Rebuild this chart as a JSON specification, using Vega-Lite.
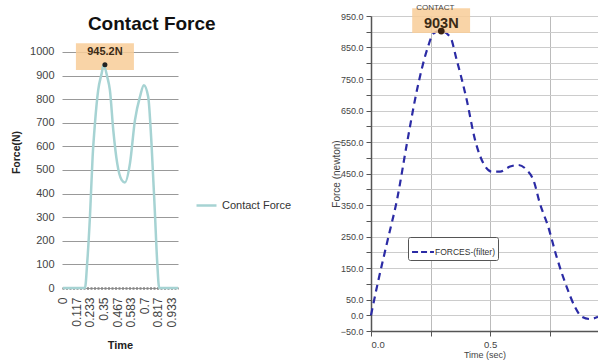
{
  "$schema": "https://vega.github.io/schema/vega-lite/v6.json",
  "padding": {"left": 11, "top": 4, "right": 0, "bottom": 0},
  "spacing": 39,
  "config": {"font": "Liberation Sans", "view": {"stroke": null}, "axis": {"labelOverlap": false, "tickCount": 100}},
  "datasets": {
    "left": [
      {"t": 0, "v": 0, "series": "Contact Force"},
      {"t": 0.19, "v": 0, "series": "Contact Force"},
      {"t": 0.209, "v": 105, "series": "Contact Force"},
      {"t": 0.233, "v": 303, "series": "Contact Force"},
      {"t": 0.256, "v": 556, "series": "Contact Force"},
      {"t": 0.276, "v": 697, "series": "Contact Force"},
      {"t": 0.304, "v": 838, "series": "Contact Force"},
      {"t": 0.334, "v": 909, "series": "Contact Force"},
      {"t": 0.35, "v": 945.2, "series": "Contact Force"},
      {"t": 0.382, "v": 894, "series": "Contact Force"},
      {"t": 0.405, "v": 838, "series": "Contact Force"},
      {"t": 0.434, "v": 669, "series": "Contact Force"},
      {"t": 0.468, "v": 528, "series": "Contact Force"},
      {"t": 0.506, "v": 458, "series": "Contact Force"},
      {"t": 0.534, "v": 447, "series": "Contact Force"},
      {"t": 0.578, "v": 528, "series": "Contact Force"},
      {"t": 0.621, "v": 711, "series": "Contact Force"},
      {"t": 0.664, "v": 810, "series": "Contact Force"},
      {"t": 0.698, "v": 859, "series": "Contact Force"},
      {"t": 0.735, "v": 810, "series": "Contact Force"},
      {"t": 0.765, "v": 598, "series": "Contact Force"},
      {"t": 0.793, "v": 317, "series": "Contact Force"},
      {"t": 0.813, "v": 107, "series": "Contact Force"},
      {"t": 0.83, "v": 0, "series": "Contact Force"},
      {"t": 0.992, "v": 0, "series": "Contact Force"}
    ],
    "leftNote": [
      {"t0": 0.112, "t1": 0.612, "v0": 923, "v1": 1037, "tp": 0.362, "vp": 945.2, "vt": 1000, "label": "945.2N"}
    ],
    "right": [
      {"t": 0, "v": 0, "series": "FORCES-(filter)"},
      {"t": 0.028, "v": 101, "series": "FORCES-(filter)"},
      {"t": 0.07, "v": 239, "series": "FORCES-(filter)"},
      {"t": 0.109, "v": 366, "series": "FORCES-(filter)"},
      {"t": 0.151, "v": 546, "series": "FORCES-(filter)"},
      {"t": 0.193, "v": 715, "series": "FORCES-(filter)"},
      {"t": 0.235, "v": 842, "series": "FORCES-(filter)"},
      {"t": 0.263, "v": 895, "series": "FORCES-(filter)"},
      {"t": 0.29, "v": 903, "series": "FORCES-(filter)"},
      {"t": 0.332, "v": 884, "series": "FORCES-(filter)"},
      {"t": 0.36, "v": 810, "series": "FORCES-(filter)"},
      {"t": 0.402, "v": 683, "series": "FORCES-(filter)"},
      {"t": 0.437, "v": 556, "series": "FORCES-(filter)"},
      {"t": 0.472, "v": 482, "series": "FORCES-(filter)"},
      {"t": 0.507, "v": 456, "series": "FORCES-(filter)"},
      {"t": 0.542, "v": 456, "series": "FORCES-(filter)"},
      {"t": 0.584, "v": 472, "series": "FORCES-(filter)"},
      {"t": 0.619, "v": 477, "series": "FORCES-(filter)"},
      {"t": 0.654, "v": 461, "series": "FORCES-(filter)"},
      {"t": 0.682, "v": 429, "series": "FORCES-(filter)"},
      {"t": 0.709, "v": 355, "series": "FORCES-(filter)"},
      {"t": 0.744, "v": 281, "series": "FORCES-(filter)"},
      {"t": 0.779, "v": 186, "series": "FORCES-(filter)"},
      {"t": 0.821, "v": 91, "series": "FORCES-(filter)"},
      {"t": 0.856, "v": 27, "series": "FORCES-(filter)"},
      {"t": 0.884, "v": -4, "series": "FORCES-(filter)"},
      {"t": 0.919, "v": -12, "series": "FORCES-(filter)"},
      {"t": 0.953, "v": -5, "series": "FORCES-(filter)"}
    ],
    "rightNote": [
      {"t0": 0.173, "t1": 0.416, "v0": 896, "v1": 975, "tp": 0.295, "vp": 902, "tt": 0.27, "vt": 975, "vb": 926, "small": "CONTACT", "big": "903N"}
    ]
  },
  "hconcat": [
    {
      "width": 116,
      "height": 272,
      "title": {"text": "Contact Force", "fontSize": 19, "fontWeight": "bold", "color": "#111", "offset": -33, "anchor": "middle", "frame": "bounds", "baseline": "alphabetic"},
      "layer": [
        {
          "data": {"name": "leftNote"},
          "mark": {"type": "rect", "fill": "#f8cd98", "opacity": 0.85},
          "encoding": {
            "x": {"field": "t0", "type": "quantitative"},
            "x2": {"field": "t1"},
            "y": {"field": "v0", "type": "quantitative"},
            "y2": {"field": "v1"}
          }
        },
        {
          "data": {"name": "left"},
          "mark": {"type": "line", "strokeWidth": 2.5, "interpolate": "monotone"},
          "encoding": {
            "x": {"field": "t", "type": "quantitative",
              "scale": {"domain": [-0.008, 0.992], "nice": false, "zero": false},
              "axis": {"values": [0, 0.117, 0.233, 0.35, 0.467, 0.583, 0.7, 0.817, 0.933], "tickCount": 100, "format": ".3~f", "labelOverlap": false,
                "labelAngle": -90, "labelAlign": "right", "labelBaseline": "middle", "labelFontSize": 12, "labelColor": "#444", "labelPadding": 9,
                "grid": false, "ticks": false, "domainColor": "#888", "domainWidth": 2.5, "domainDash": [2, 1.5],
                "title": "Time", "titleFontSize": 11, "titleFontWeight": "bold", "titleColor": "#222", "titlePadding": 12}},
            "y": {"field": "v", "type": "quantitative",
              "scale": {"domain": [0, 1152], "nice": false},
              "axis": {"values": [0, 100, 200, 300, 400, 500, 600, 700, 800, 900, 1000], "tickCount": 100, "format": "d", "labelOverlap": false, "grid": true, "gridColor": "#999", "domain": false, "ticks": false,
                "labelFontSize": 11, "labelColor": "#444", "labelPadding": 8,
                "title": "Force(N)", "titleFontSize": 10.5, "titleFontWeight": "bold", "titleColor": "#222", "titlePadding": 8}},
            "color": {"field": "series", "type": "nominal", "scale": {"range": ["#a6d3d3"]},
              "legend": {"orient": "none", "legendX": 133, "legendY": 178, "title": null, "symbolType": "stroke", "symbolStrokeWidth": 2.5, "symbolSize": 400, "labelFontSize": 11, "labelColor": "#333", "labelOffset": 4}}
          }
        },
        {
          "data": {"name": "leftNote"},
          "mark": {"type": "point", "filled": true, "color": "#222", "size": 25, "opacity": 1},
          "encoding": {"x": {"field": "tp", "type": "quantitative"}, "y": {"field": "vp", "type": "quantitative"}}
        },
        {
          "data": {"name": "leftNote"},
          "mark": {"type": "text", "fontSize": 11, "fontWeight": "bold", "color": "#3a2a15", "baseline": "middle"},
          "encoding": {"x": {"field": "tp", "type": "quantitative"}, "y": {"field": "vt", "type": "quantitative"}, "text": {"field": "label"}}
        }
      ]
    },
    {
      "width": 227,
      "height": 315,
      "layer": [
        {
          "data": {"name": "right"},
          "mark": {"type": "line", "strokeWidth": 2.2, "strokeDash": [7, 5], "interpolate": "monotone"},
          "encoding": {
            "x": {"field": "t", "type": "quantitative",
              "scale": {"domain": [0, 0.953], "nice": false, "zero": false},
              "axis": {"values": [0, 0.25, 0.5, 0.75], "tickCount": 100, "labelExpr": "datum.value == 0.25 || datum.value == 0.75 ? '' : format(datum.value, '.1f')", "labelOverlap": false,
                "grid": true, "gridColor": "#bbb", "domainColor": "#555", "domainWidth": 1.5, "tickColor": "#555", "tickSize": 5,
                "labelFontSize": 9.5, "labelColor": "#444", "labelPadding": 3,
                "title": "Time (sec)", "titleFontSize": 9, "titleFontWeight": "normal", "titleColor": "#444", "titlePadding": 2}},
            "y": {"field": "v", "type": "quantitative",
              "scale": {"domain": [-50, 950], "nice": false, "zero": false},
              "axis": {"values": [-50, 0, 50, 100, 150, 200, 250, 300, 350, 400, 450, 500, 550, 600, 650, 700, 750, 800, 850, 900, 950], "tickCount": 100,
                "labelExpr": "(datum.value % 100 != 0 || datum.value == 0) ? format(datum.value, '.1f') : ''", "labelOverlap": false,
                "grid": true, "gridColor": "#ccc", "domainColor": "#555", "domainWidth": 1.5, "tickColor": "#555", "tickSize": 5,
                "labelFontSize": 9, "labelColor": "#444", "labelPadding": 3,
                "title": "Force (newton)", "titleFontSize": 10, "titleFontWeight": "normal", "titleColor": "#444", "titlePadding": -1}},
            "color": {"field": "series", "type": "nominal", "scale": {"range": ["#2b2ba5"]},
              "legend": {"orient": "none", "legendX": 37, "legendY": 221, "title": null, "symbolType": "stroke", "symbolDash": [6, 3], "symbolStrokeWidth": 2, "symbolSize": 480,
                "labelFontSize": 8.5, "labelColor": "#333", "labelOffset": 0, "strokeColor": "#555", "fillColor": "white", "padding": 3, "cornerRadius": 2}}
          }
        },
        {
          "mark": {"type": "rule", "color": "#444", "strokeWidth": 1.5},
          "encoding": {"y": {"datum": 0}}
        },
        {
          "mark": {"type": "rule", "color": "#555", "strokeWidth": 1.5},
          "encoding": {"y": {"datum": 950}}
        },
        {
          "data": {"name": "rightNote"},
          "mark": {"type": "rect", "fill": "#f8cd98", "opacity": 0.85, "clip": false},
          "encoding": {
            "x": {"field": "t0", "type": "quantitative"},
            "x2": {"field": "t1"},
            "y": {"field": "v0", "type": "quantitative"},
            "y2": {"field": "v1"}
          }
        },
        {
          "data": {"name": "rightNote"},
          "mark": {"type": "point", "filled": true, "color": "#3a2210", "size": 45, "opacity": 1},
          "encoding": {"x": {"field": "tp", "type": "quantitative"}, "y": {"field": "vp", "type": "quantitative"}}
        },
        {
          "data": {"name": "rightNote"},
          "mark": {"type": "text", "fontSize": 8, "color": "#444", "baseline": "middle", "clip": false},
          "encoding": {"x": {"field": "tt", "type": "quantitative"}, "y": {"field": "vt", "type": "quantitative"}, "text": {"field": "small"}}
        },
        {
          "data": {"name": "rightNote"},
          "mark": {"type": "text", "fontSize": 14.5, "fontWeight": "bold", "color": "#3a2a15", "baseline": "middle"},
          "encoding": {"x": {"field": "tp", "type": "quantitative"}, "y": {"field": "vb", "type": "quantitative"}, "text": {"field": "big"}}
        }
      ]
    }
  ],
  "resolve": {"scale": {"color": "independent"}, "legend": {"color": "independent"}}
}
